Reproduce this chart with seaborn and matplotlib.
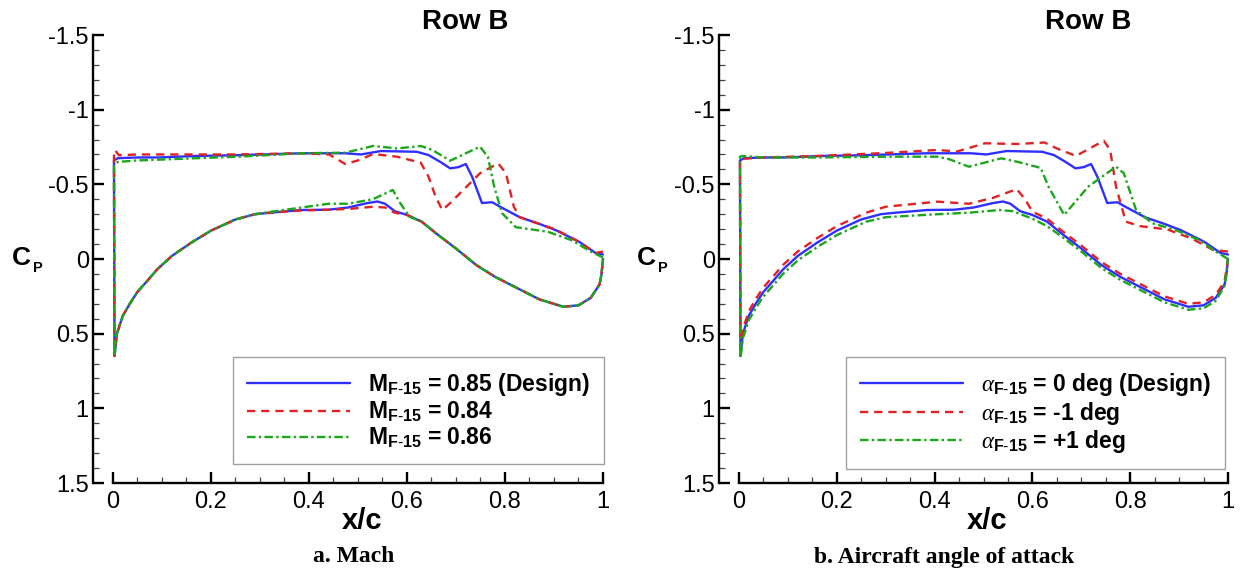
import numpy as np
import pandas as pd
import matplotlib
matplotlib.use("Agg")
import matplotlib.pyplot as plt
import seaborn as sns
from matplotlib.ticker import FixedLocator, FixedFormatter

# ---------------- data ----------------
# Design case (M=0.85, alpha=0) -- same curve in both panels
design_x_up = [0.002, 0.01, 0.05, 0.093, 0.17, 0.255, 0.385, 0.474, 0.506, 0.547, 0.62, 0.644, 0.668,
               0.688, 0.705, 0.72, 0.733, 0.753, 0.774, 0.79, 0.83, 0.87, 0.903, 0.951, 0.985, 1.0]
design_cp_up = [-0.66, -0.675, -0.68, -0.68, -0.69, -0.695, -0.708, -0.708, -0.70, -0.723, -0.718, -0.696, -0.65,
                -0.607, -0.615, -0.636, -0.55, -0.375, -0.38, -0.35, -0.28, -0.235, -0.194, -0.116, -0.04, -0.03]
design_x_lo = [0.003, 0.008, 0.02, 0.036, 0.05, 0.069, 0.09, 0.12, 0.16, 0.20, 0.25, 0.29, 0.32, 0.385, 0.44,
               0.48, 0.52, 0.54, 0.555, 0.575, 0.60, 0.63, 0.66, 0.70, 0.741, 0.78, 0.822, 0.87, 0.919, 0.95,
               0.975, 0.993, 0.997, 1.0]
design_cp_lo = [0.65, 0.50, 0.38, 0.29, 0.22, 0.15, 0.07, -0.02, -0.11, -0.19, -0.265, -0.30, -0.31, -0.328, -0.33,
                -0.345, -0.375, -0.385, -0.37, -0.32, -0.295, -0.25, -0.17, -0.07, 0.04, 0.12, 0.19, 0.27, 0.32, 0.31,
                0.26, 0.17, 0.10, 0.0]

# M = 0.84
m084_x_up = [0.002, 0.004, 0.012, 0.05, 0.093, 0.17, 0.255, 0.385, 0.441, 0.474, 0.50, 0.531, 0.58, 0.628, 0.644,
             0.658, 0.672, 0.69, 0.708, 0.749, 0.786, 0.802, 0.818, 0.83, 0.87, 0.903, 0.951, 0.985, 1.0]
m084_cp_up = [-0.70, -0.73, -0.695, -0.70, -0.70, -0.70, -0.70, -0.708, -0.70, -0.636, -0.66, -0.703, -0.685, -0.645,
              -0.551, -0.42, -0.328, -0.38, -0.44, -0.574, -0.641, -0.574, -0.35, -0.28, -0.235, -0.198, -0.115, -0.04,
              -0.05]
m084_x_lo = [0.003, 0.008, 0.02, 0.036, 0.05, 0.069, 0.09, 0.12, 0.16, 0.20, 0.25, 0.29, 0.32, 0.385, 0.44, 0.48,
             0.531, 0.555, 0.575, 0.60, 0.63, 0.66, 0.70, 0.741, 0.78, 0.822, 0.87, 0.919, 0.95, 0.975, 0.993, 0.997,
             1.0]
m084_cp_lo = [0.65, 0.50, 0.38, 0.29, 0.22, 0.15, 0.07, -0.02, -0.11, -0.19, -0.265, -0.30, -0.31, -0.325, -0.33,
              -0.335, -0.35, -0.345, -0.31, -0.295, -0.25, -0.17, -0.07, 0.04, 0.12, 0.19, 0.27, 0.32, 0.31, 0.26, 0.17,
              0.10, 0.0]

# M = 0.86
m086_x_up = [0.002, 0.01, 0.05, 0.093, 0.17, 0.255, 0.385, 0.474, 0.531, 0.58, 0.628, 0.652, 0.688, 0.72, 0.749,
             0.765, 0.778, 0.794, 0.822, 0.887, 0.935, 0.975, 1.0]
m086_cp_up = [-0.63, -0.65, -0.66, -0.665, -0.675, -0.685, -0.708, -0.712, -0.757, -0.74, -0.757, -0.73, -0.658,
              -0.708, -0.752, -0.685, -0.484, -0.307, -0.213, -0.183, -0.127, -0.05, -0.01]
m086_x_lo = [0.003, 0.008, 0.02, 0.036, 0.05, 0.069, 0.09, 0.12, 0.16, 0.20, 0.25, 0.29, 0.32, 0.385, 0.44, 0.48,
             0.53, 0.571, 0.585, 0.605, 0.63, 0.66, 0.70, 0.741, 0.78, 0.822, 0.87, 0.919, 0.95, 0.975, 0.993, 0.997,
             1.0]
m086_cp_lo = [0.65, 0.50, 0.38, 0.29, 0.22, 0.15, 0.07, -0.02, -0.11, -0.19, -0.265, -0.30, -0.315, -0.345, -0.37,
              -0.37, -0.40, -0.462, -0.38, -0.283, -0.25, -0.17, -0.07, 0.04, 0.12, 0.19, 0.27, 0.32, 0.31, 0.26, 0.17,
              0.10, 0.0]

# alpha = -1 deg
am1_x_up = [0.002, 0.05, 0.162, 0.30, 0.406, 0.446, 0.503, 0.568, 0.625, 0.649, 0.689, 0.746, 0.759, 0.771, 0.791,
            0.82, 0.876, 0.925, 0.97, 1.0]
am1_cp_up = [-0.67, -0.68, -0.69, -0.71, -0.73, -0.72, -0.775, -0.77, -0.78, -0.742, -0.69, -0.792, -0.73, -0.484,
             -0.25, -0.22, -0.198, -0.138, -0.06, -0.05]
am1_x_lo = [0.003, 0.008, 0.02, 0.036, 0.05, 0.069, 0.09, 0.12, 0.16, 0.20, 0.26, 0.30, 0.406, 0.47, 0.52, 0.568,
            0.585, 0.60, 0.63, 0.66, 0.70, 0.741, 0.78, 0.822, 0.87, 0.919, 0.95, 0.975, 0.993, 1.0]
am1_cp_lo = [0.60, 0.47, 0.35, 0.26, 0.19, 0.12, 0.04, -0.05, -0.14, -0.22, -0.31, -0.35, -0.384, -0.37, -0.41,
             -0.468, -0.40, -0.317, -0.27, -0.19, -0.09, 0.02, 0.10, 0.17, 0.25, 0.30, 0.29, 0.24, 0.15, 0.0]

# alpha = +1 deg
ap1_x_up = [0.002, 0.006, 0.05, 0.162, 0.30, 0.406, 0.43, 0.47, 0.536, 0.568, 0.617, 0.633, 0.665, 0.714, 0.771,
            0.787, 0.812, 0.845, 0.893, 0.941, 0.975, 1.0]
ap1_cp_up = [-0.685, -0.69, -0.68, -0.68, -0.685, -0.685, -0.668, -0.618, -0.674, -0.652, -0.61, -0.484, -0.295,
             -0.484, -0.618, -0.574, -0.328, -0.24, -0.194, -0.127, -0.05, 0.0]
ap1_x_lo = [0.003, 0.008, 0.02, 0.036, 0.05, 0.069, 0.09, 0.12, 0.16, 0.20, 0.26, 0.30, 0.406, 0.47, 0.533, 0.56,
            0.60, 0.63, 0.66, 0.70, 0.741, 0.78, 0.822, 0.87, 0.919, 0.95, 0.975, 0.993, 1.0]
ap1_cp_lo = [0.66, 0.53, 0.41, 0.32, 0.25, 0.18, 0.10, 0.01, -0.08, -0.16, -0.25, -0.28, -0.30, -0.31, -0.328,
             -0.32, -0.27, -0.22, -0.15, -0.05, 0.06, 0.14, 0.21, 0.29, 0.34, 0.33, 0.28, 0.18, 0.0]

mach_labels = [r"$\mathbf{M}_{\mathbf{F\text{-}15}}$ = 0.85 (Design)",
               r"$\mathbf{M}_{\mathbf{F\text{-}15}}$ = 0.84",
               r"$\mathbf{M}_{\mathbf{F\text{-}15}}$ = 0.86"]
aoa_labels = [r"$\alpha_{\mathbf{F\text{-}15}}$ = 0 deg (Design)",
              r"$\alpha_{\mathbf{F\text{-}15}}$ = -1 deg",
              r"$\alpha_{\mathbf{F\text{-}15}}$ = +1 deg"]

x_major = [0, 0.2, 0.4, 0.6, 0.8, 1.0]
x_major_labels = ["0", "0.2", "0.4", "0.6", "0.8", "1"]
y_major = [-1.5, -1.0, -0.5, 0.0, 0.5, 1.0, 1.5]
y_major_labels = ["-1.5", "-1", "-0.5", "0", "0.5", "1", "1.5"]
panel_title = "Row B"
captions = ["a. Mach", "b. Aircraft angle of attack"]

# ---------------- style ----------------
sns.set_theme(style="ticks")
plt.rcParams["font.family"] = ["Liberation Sans", "DejaVu Sans"]
plt.rcParams["mathtext.fontset"] = "custom"
plt.rcParams["mathtext.rm"] = "Liberation Sans"
plt.rcParams["mathtext.bf"] = "Liberation Sans:bold"
plt.rcParams["mathtext.it"] = "Liberation Serif:italic"
plt.rcParams["axes.unicode_minus"] = False
plt.rcParams["text.color"] = "black"

colors = ["#2f2fff", "#e22222", "#1aa81a"]
styles = ["-", (0, (3.5, 2.5)), (0, (3.6, 1.4, 1.0, 1.4))]

W, H = 1241, 573
fig = plt.figure(figsize=(W / 100, H / 100), dpi=100)


def make_frame(x_upper, cp_upper, x_lower, cp_lower):
    xs = list(x_upper[::-1]) + list(x_lower)
    ys = list(cp_upper[::-1]) + list(cp_lower)
    return pd.DataFrame({"x": xs, "cp": ys, "order": np.arange(len(xs))})


def setup_axes(spine_px, x0_px, x1_px):
    per = x1_px - x0_px
    left = spine_px / W
    right_px = x1_px + 3
    ax = fig.add_axes([left, (H - 483) / H, (right_px - spine_px) / W, 448 / H])
    ax.set_xlim((spine_px - x0_px) / per, (right_px - x0_px) / per)
    ax.set_ylim(1.5, -1.5)
    for s in ["top", "right"]:
        ax.spines[s].set_visible(False)
    ax.spines["bottom"].set_bounds(0, 1)
    for s in ["left", "bottom"]:
        ax.spines[s].set_linewidth(1.7)
        ax.spines[s].set_color("black")
    ax.xaxis.set_major_locator(FixedLocator(x_major))
    ax.xaxis.set_major_formatter(FixedFormatter(x_major_labels))
    ax.xaxis.set_minor_locator(FixedLocator(np.arange(0, 1.0001, 0.05)))
    ax.yaxis.set_major_locator(FixedLocator(y_major))
    ax.yaxis.set_major_formatter(FixedFormatter(y_major_labels))
    ax.yaxis.set_minor_locator(FixedLocator(np.arange(-1.5, 1.5001, 0.1)))
    ax.tick_params(which="major", direction="in", length=8, width=1.7, labelsize=17, color="black",
                   labelcolor="black")
    ax.tick_params(which="minor", direction="in", length=4, width=0.9, color="#444444")
    ax.tick_params(axis="y", which="major", pad=3)
    ax.tick_params(axis="x", which="major", pad=6)
    ax.set_facecolor("white")
    ax.grid(False)
    return ax


panels = [
    (93, 113, 603, [(design_x_up, design_cp_up, design_x_lo, design_cp_lo),
                    (m084_x_up, m084_cp_up, m084_x_lo, m084_cp_lo),
                    (m086_x_up, m086_cp_up, m086_x_lo, m086_cp_lo)], mach_labels, 233),
    (719, 739, 1228, [(design_x_up, design_cp_up, design_x_lo, design_cp_lo),
                      (am1_x_up, am1_cp_up, am1_x_lo, am1_cp_lo),
                      (ap1_x_up, ap1_cp_up, ap1_x_lo, ap1_cp_lo)], aoa_labels, 846),
]

for i, (sp, x0, x1, series, labels, leg_x) in enumerate(panels):
    ax = setup_axes(sp, x0, x1)
    for k, (xu, cu, xl, cl) in enumerate(series):
        df = make_frame(xu, cu, xl, cl)
        sns.lineplot(data=df, x="x", y="cp", sort=False, estimator=None, ax=ax, color=colors[k],
                     linestyle=styles[k], linewidth=1.7, label=labels[k])
    ax.set_xlabel("")
    ax.set_ylabel("")
    leg = ax.legend(loc="upper left", bbox_to_anchor=(leg_x / W, 1 - 357 / H), bbox_transform=fig.transFigure,
                    borderaxespad=0, frameon=True, fancybox=False, handlelength=4.5, handletextpad=0.8,
                    labelspacing=0.08, borderpad=0.6,
                    prop={"family": "Liberation Sans", "weight": "bold", "size": 16.5})
    leg.get_frame().set_edgecolor("#888888")
    leg.get_frame().set_linewidth(1.0)
    for t in leg.get_texts():
        t.set_color("black")

    cx = (x0 + x1) / 2
    fig.text((465 if i == 0 else 1088) / W, 1 - 22 / H, panel_title, ha="center", va="center",
             fontsize=20, fontweight="bold", family="Liberation Sans", color="black")
    fig.text(cx / W + 0.003, 1 - 521 / H, "x/c", ha="center", va="center", fontsize=21, fontweight="bold",
             family="Liberation Sans", color="black")
    cxp = 21 if i == 0 else 646
    fig.text(cxp / W, 1 - 258 / H, "C", ha="center", va="center", fontsize=19, fontweight="bold",
             family="Liberation Sans", color="black")
    fig.text((cxp + 17) / W, 1 - 268 / H, "P", ha="center", va="center", fontsize=10.5, fontweight="bold",
             family="Liberation Sans", color="black")
    fig.text((354 if i == 0 else 944) / W, 1 - 557 / H, captions[i], ha="center", va="center", fontsize=17,
             fontweight="bold", family="Liberation Serif", color="black")

fig.savefig("out.png", dpi=100, facecolor="white")
